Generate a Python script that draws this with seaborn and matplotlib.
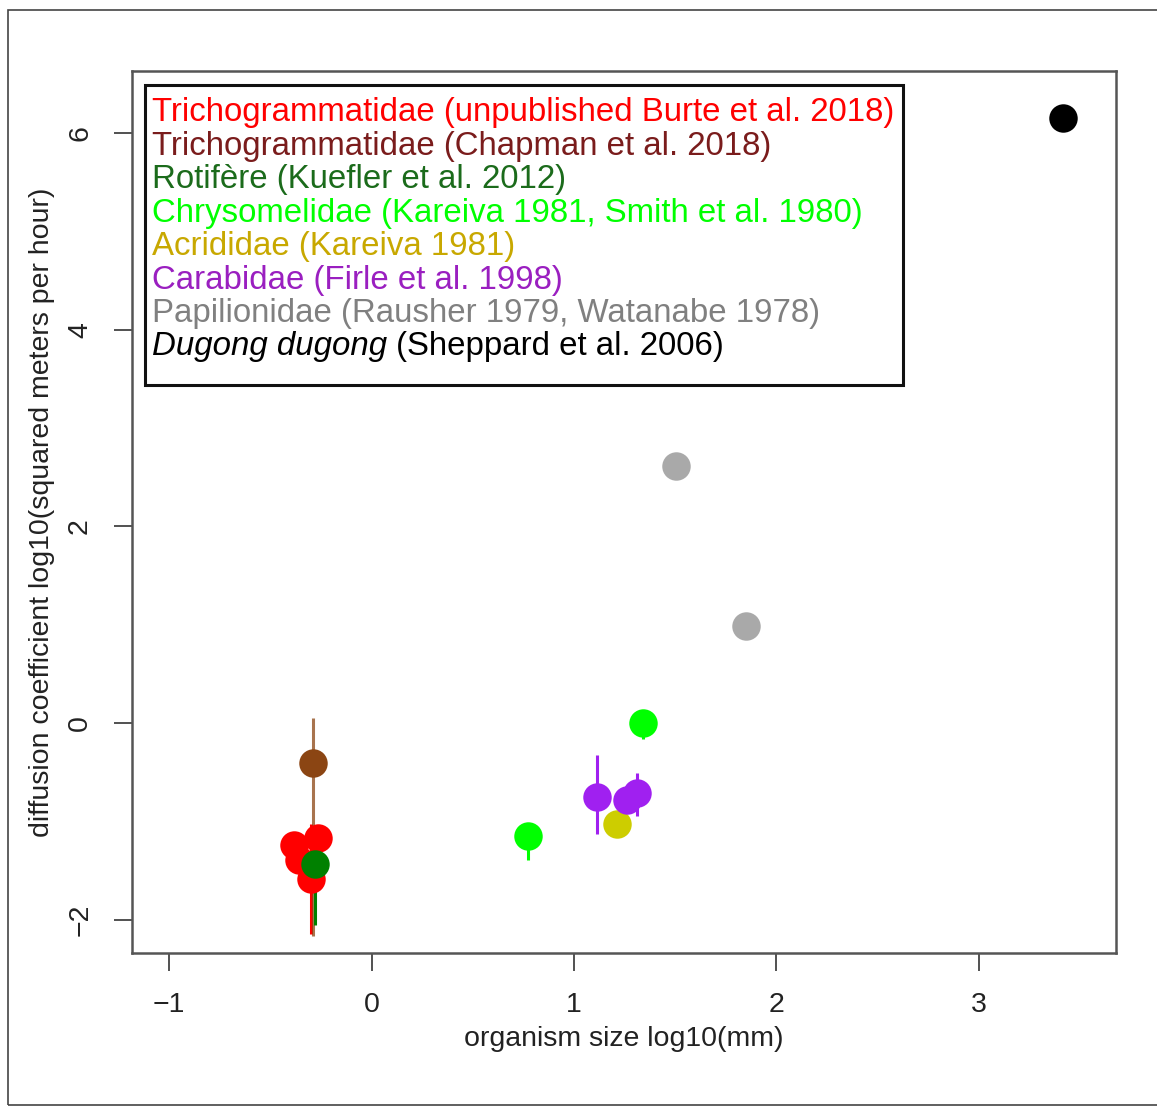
import matplotlib
matplotlib.use("Agg")
import matplotlib.pyplot as plt
import seaborn as sns
import pandas as pd
from matplotlib.patches import Rectangle

# groups, in drawing order
groups = ["Burte", "Chapman", "Rotifere", "Chrysomelidae", "Acrididae", "Carabidae", "Papilionidae", "Dugong"]
point_colors = ["#FF0000", "#8B4513", "#008000", "#00FF00", "#CDCD00", "#A020F0", "#A9A9A9", "#000000"]
text_colors = ["#FF0000", "#7A1C1C", "#1B6B1B", "#00FF00", "#C8A800", "#9A1FC0", "#808080", "#000000"]
legend_labels = [
    "Trichogrammatidae (unpublished Burte et al. 2018)",
    "Trichogrammatidae (Chapman et al. 2018)",
    "Rotifère (Kuefler et al. 2012)",
    "Chrysomelidae (Kareiva 1981, Smith et al. 1980)",
    "Acrididae (Kareiva 1981)",
    "Carabidae (Firle et al. 1998)",
    "Papilionidae (Rausher 1979, Watanabe 1978)",
    "Dugong dugong",
]

# points: group, log10 size (mm), log10 diffusion, lower / upper bounds
pt_group = ["Burte", "Burte", "Burte", "Burte",
            "Chapman", "Rotifere",
            "Chrysomelidae", "Chrysomelidae",
            "Acrididae",
            "Carabidae", "Carabidae", "Carabidae",
            "Papilionidae", "Papilionidae",
            "Dugong"]
pt_size = [-0.385, -0.262, -0.36, -0.30,
           -0.29, -0.28,
           0.775, 1.343,
           1.21,
           1.116, 1.264, 1.309,
           1.506, 1.852,
           3.417]
pt_diff = [-1.24, -1.17, -1.39, -1.58,
           -0.40, -1.43,
           -1.15, 0.00,
           -1.02,
           -0.75, -0.78, -0.71,
           2.61, 0.99,
           6.155]
pt_lo = [-1.24, -1.17, -1.39, -2.14,
         -2.16, -2.05,
         -1.39, -0.16,
         -1.02,
         -1.13, -0.78, -0.94,
         2.61, 0.99,
         6.155]
pt_hi = [-1.24, -1.17, -1.39, -1.02,
         0.05, -1.20,
         -1.01, 0.10,
         -1.02,
         -0.32, -0.78, -0.51,
         2.61, 0.99,
         6.155]

df = pd.DataFrame({"group": pt_group, "size": pt_size, "diff": pt_diff,
                   "lo": pt_lo, "hi": pt_hi})

sns.set_theme(style="white")
plt.rcParams["font.family"] = ["Liberation Sans", "DejaVu Sans"]

fig = plt.figure(figsize=(11.57, 11.08), dpi=100)
ax = fig.add_axes([132 / 1157, 1 - 953 / 1108, 984 / 1157, 882 / 1108])

# outer frame
fig.patches.append(Rectangle((8 / 1157, 3 / 1108), 1.2, 1 - 13 / 1108,
                             transform=fig.transFigure, fill=False,
                             edgecolor="#444444", linewidth=1.2))

err_alpha = {"Chapman": 0.75}
for g, pc in zip(groups, point_colors):
    sub = df[df["group"] == g]
    bars = sub[sub["hi"] > sub["lo"]]
    if len(bars):
        ax.vlines(bars["size"], bars["lo"], bars["hi"], color=pc,
                  linewidth=2.2, alpha=err_alpha.get(g, 1.0), zorder=2)
    sns.scatterplot(data=sub, x="size", y="diff", color=pc, s=420,
                    linewidth=0, ax=ax, legend=False, zorder=3)

ax.set_xlim(-1.183, 3.677)
ax.set_ylim(-2.336, 6.63)
ax.set_xticks([-1, 0, 1, 2, 3])
ax.set_xticklabels(["\u22121", "0", "1", "2", "3"])
ax.set_yticks([-2, 0, 2, 4, 6])
ax.set_yticklabels(["\u22122", "0", "2", "4", "6"], rotation=90, va="center")
ax.tick_params(axis="both", direction="out", length=13, width=1.2,
               color="#333333", labelsize=20.5, pad=15, labelcolor="#222222")
ax.tick_params(axis="both", which="both", bottom=True, left=True)
for s in ax.spines.values():
    s.set_color("#555555")
    s.set_linewidth(1.8)

ax.set_xlabel("organism size log10(mm)", fontsize=20.5, color="#222222", labelpad=6)
ax.set_ylabel("diffusion coefficient log10(squared meters per hour)", fontsize=20.5,
              color="#222222", labelpad=9)

# legend box (text only, as in the original)
ax.add_patch(Rectangle((0.0132, 0.644), 0.7703, 0.3401, transform=ax.transAxes,
                       fill=False, edgecolor="#111111", linewidth=2.2, zorder=5))
y0, step = (953 - 113) / 882, 33.4 / 882
for i, (lab, tc) in enumerate(zip(legend_labels, text_colors)):
    y = y0 - i * step
    if lab == "Dugong dugong":
        t = ax.text(0.0203, y, lab, transform=ax.transAxes, fontsize=23.8,
                    color=tc, style="italic", va="center", ha="left", zorder=6)
        ax.annotate(" (Sheppard et al. 2006)", xy=(1, 0), xycoords=t,
                    fontsize=23.8, color=tc, va="bottom", ha="left", zorder=6)
    else:
        ax.text(0.0203, y, lab, transform=ax.transAxes, fontsize=23.8,
                color=tc, va="center", ha="left", zorder=6)

fig.savefig("out.png", dpi=100)
